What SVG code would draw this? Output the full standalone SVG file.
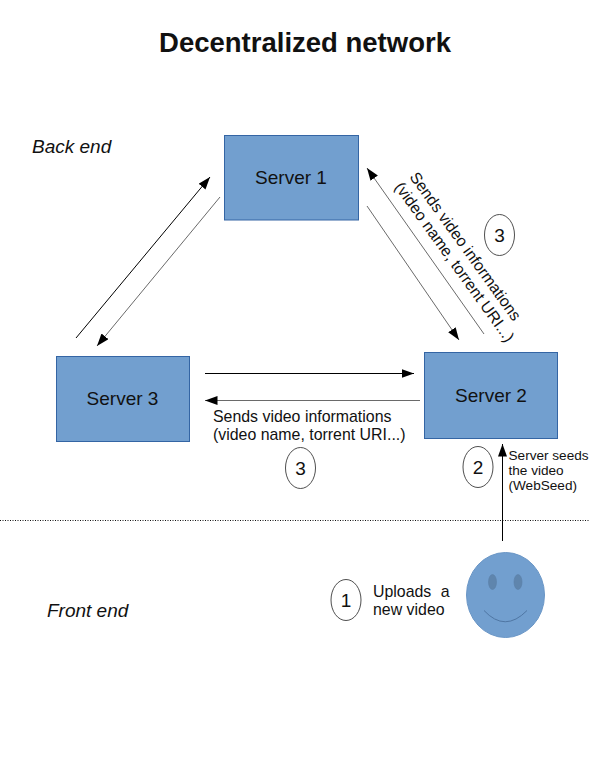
<svg xmlns="http://www.w3.org/2000/svg" width="589" height="762" viewBox="0 0 589 762">
<style>
text{font-family:"Liberation Sans",Arial,sans-serif;fill:#111}
.srv{fill:#729fcf;stroke:#3465a4;stroke-width:1}
.l{font-size:19px;text-anchor:middle}
.c{fill:#fff;stroke:#222;stroke-width:.8}
.n{font-size:19px;text-anchor:middle}
.s{font-size:15.900px}
.xs{font-size:13.600px}
.i{font-size:19px;font-style:italic}
.a{stroke:#000;stroke-width:1;fill:none;marker-end:url(#ah)}
.g{stroke:#444;stroke-width:.8;fill:none;marker-end:url(#ah)}
</style>
<defs>
<marker id="ah" markerUnits="userSpaceOnUse" markerWidth="14" markerHeight="10" refX="12.500" refY="4.500" orient="auto"><path d="M0 0L12.500 4.500L0 9Z" fill="#000"/></marker>
</defs>
<rect width="589" height="762" fill="#fff"/>
<text x="305" y="52" font-size="27.500" font-weight="700" text-anchor="middle" fill="#000">Decentralized network</text>
<text class="i" x="32" y="153">Back end</text>
<text class="i" x="47" y="617">Front end</text>
<line x1="0" y1="520.500" x2="589" y2="520.500" stroke="#111" stroke-width="1" stroke-dasharray="1 1.500"/>
<g id="connectors">
<path class="a" d="M76 338L210 177"/>
<path class="g" d="M220 197L97 346"/>
<path class="g" d="M484 334L367 168"/>
<path class="g" d="M367 206L459 340"/>
<path class="a" d="M205 373.500H414"/>
<path class="g" d="M420 400.500H205"/>
<path class="a" d="M502.500 541V444"/>
</g>
<g id="server-1"><rect class="srv" x="224.500" y="135.500" width="134" height="84.500"/><text class="l" x="291" y="184">Server 1</text></g>
<g id="server-2"><rect class="srv" x="424.500" y="352.500" width="133" height="86"/><text class="l" x="491" y="402">Server 2</text></g>
<g id="server-3"><rect class="srv" x="56.500" y="356.500" width="133" height="85"/><text class="l" x="122.500" y="405">Server 3</text></g>
<g id="label-3a">
<text class="s" transform="translate(409,177) rotate(54.300)">Sends video informations</text>
<text class="s" transform="translate(394,187) rotate(54.300)">(video name, torrent URI...)</text>
</g>
<g id="badge-3a"><ellipse class="c" cx="499.500" cy="235" rx="15" ry="20.500"/><text class="n" x="499.500" y="241.500">3</text></g>
<g id="label-3b">
<text class="s" x="213" y="421.500">Sends video informations</text>
<text class="s" x="213" y="439.500">(video name, torrent URI...)</text>
</g>
<g id="badge-3b"><ellipse class="c" cx="300.500" cy="468" rx="15" ry="20.500"/><text class="n" x="300.500" y="474.500">3</text></g>
<g id="badge-2"><ellipse class="c" cx="478" cy="467" rx="15" ry="20.500"/><text class="n" x="478" y="473.500">2</text></g>
<g id="label-2">
<text class="xs" x="508.500" y="460">Server seeds</text>
<text class="xs" x="508.500" y="475">the video</text>
<text class="xs" x="508.500" y="490">(WebSeed)</text>
</g>
<g id="badge-1"><ellipse class="c" cx="346" cy="600" rx="15" ry="20.500"/><text class="n" x="346" y="606.500">1</text></g>
<g id="label-1">
<text class="s" x="373" y="597" word-spacing="5">Uploads a</text>
<text class="s" x="373" y="615">new video</text>
</g>
<g id="user">
<ellipse cx="505.500" cy="595" rx="39" ry="42.500" fill="#729fcf" stroke="#6a96c6" stroke-width="1"/>
<ellipse cx="492.500" cy="582" rx="4" ry="7.500" fill="#5f85ad" stroke="#5a80a8" stroke-width=".6"/>
<ellipse cx="518" cy="582" rx="4" ry="7.500" fill="#5f85ad" stroke="#5a80a8" stroke-width=".6"/>
<path d="M484 610.500Q505 633 527 610.500" fill="none" stroke="#4f76a3" stroke-width="1"/>
</g>
</svg>
